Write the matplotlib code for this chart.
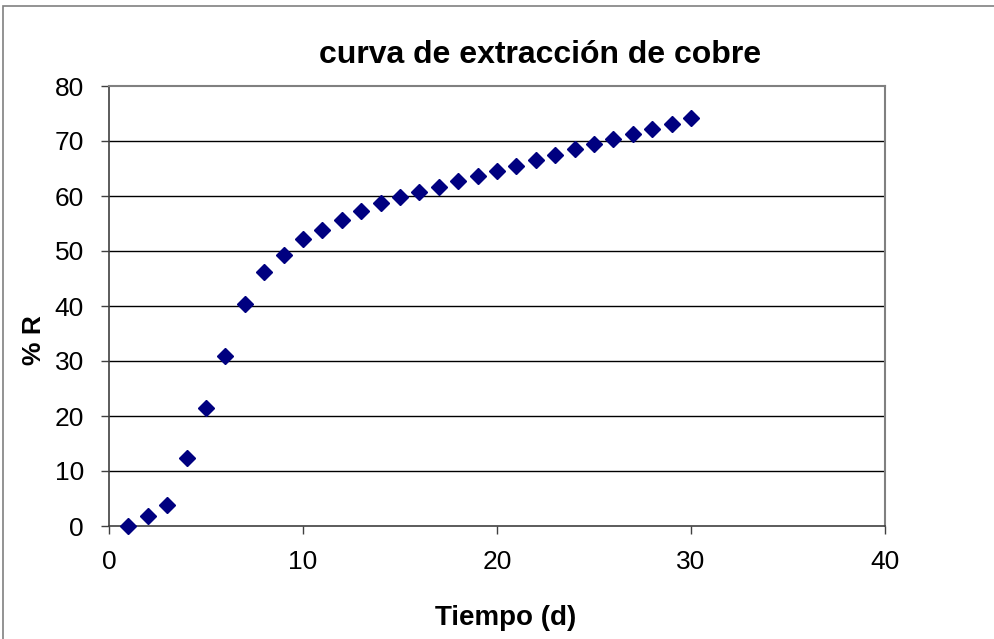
import matplotlib
matplotlib.use("Agg")
import matplotlib.pyplot as plt
from matplotlib.patches import Rectangle

# data
tiempo = list(range(1, 31))
recuperacion = [0.0, 1.8, 3.9, 12.3, 21.4, 30.9, 40.3, 46.1, 49.2, 52.1,
                53.9, 55.7, 57.2, 58.7, 59.8, 60.7, 61.6, 62.7, 63.6, 64.5,
                65.5, 66.5, 67.5, 68.6, 69.5, 70.4, 71.3, 72.2, 73.1, 74.2]
x_ticks = [0, 10, 20, 30, 40]
y_ticks = [0, 10, 20, 30, 40, 50, 60, 70, 80]

plt.rcParams['font.family'] = ['Liberation Sans', 'DejaVu Sans']

W, H = 995, 639
fig = plt.figure(figsize=(W / 100, H / 100), dpi=100)
ax = fig.add_axes([109 / W, 1 - 526 / H, (885 - 109) / W, (526 - 86) / H])

# outer chart border (right and bottom edges fall outside the picture)
fig.patches.append(Rectangle((3 / W, -0.01), 1.0, 1 - 6 / H + 0.01,
                             transform=fig.transFigure, fill=False,
                             edgecolor='#808080', linewidth=1.2))

for y in y_ticks[1:-1]:
    ax.axhline(y, color='black', linewidth=1.0, zorder=1)

ax.plot(tiempo, recuperacion, linestyle='none', marker='D', markersize=8,
        color='#000080', zorder=3, clip_on=False)

ax.set_xlim(0, 40)
ax.set_ylim(0, 80)
ax.set_xticks(x_ticks)
ax.set_yticks(y_ticks)
ax.tick_params(direction='out', length=6, width=1, color='#404040',
               labelsize=19)
ax.tick_params(axis='x', pad=11)
ax.tick_params(axis='y', pad=12)

for side in ['top', 'right']:
    ax.spines[side].set_color('#808080')
    ax.spines[side].set_linewidth(1.5)
for side in ['left', 'bottom']:
    ax.spines[side].set_color('#404040')
    ax.spines[side].set_linewidth(1.2)

fig.text(540 / W, 1 - 55 / H, 'curva de extracción de cobre', ha='center',
         va='center', fontsize=23, fontweight='bold')
fig.text(506 / W, 1 - 618 / H, 'Tiempo (d)', ha='center', va='center',
         fontsize=20, fontweight='bold')
fig.text(34 / W, 1 - 340 / H, '% R', ha='center', va='center',
         fontsize=19, fontweight='bold', rotation=90)

fig.savefig('out.png', dpi=100)
